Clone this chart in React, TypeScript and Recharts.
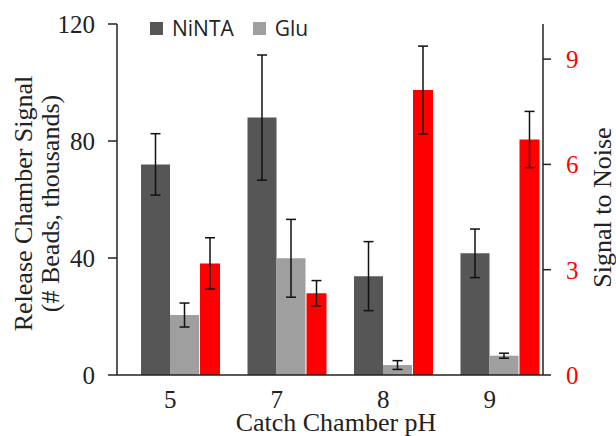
import { BarChart, Bar, XAxis, YAxis, ErrorBar, Legend } from 'recharts';

const phLevels = ['5', '7', '8', '9'];
const nintaBeads = [72, 88, 33.8, 41.6];
const nintaErr = [10.5, 21.4, 11.8, 8.3];
const gluBeads = [20.5, 39.9, 3.4, 6.6];
const gluErr = [4.1, 13.3, 1.5, 0.85];
const signalToNoise = [3.18, 2.33, 8.12, 6.71];
const snrErr = [0.73, 0.36, 1.25, 0.8];
const leftTicks = [0, 40, 80, 120];
const rightTicks = [0, 3, 6, 9];
const legendOrder = ['NiNTA', 'Glu'];

const data = phLevels.map((ph, i) => ({
  ph,
  ninta: nintaBeads[i],
  nintaErr: nintaErr[i],
  glu: gluBeads[i],
  gluErr: gluErr[i],
  snr: signalToNoise[i],
  snrErr: snrErr[i],
}));

const serif = '"Liberation Serif", "Times New Roman", serif';

const LeftTitle = ({ viewBox }: any) => {
  const cx = viewBox.x + 32;
  const cy = viewBox.y + viewBox.height / 2 + 4;
  return (
    <text
      x={cx}
      y={cy}
      transform={`rotate(-90, ${cx}, ${cy})`}
      textAnchor="middle"
      fontFamily={serif}
      fontSize={26}
      fill="#222"
    >
      <tspan x={cx}>Release Chamber Signal</tspan>
      <tspan x={cx} dy={27}>(# Beads, thousands)</tspan>
    </text>
  );
};

const RightTitle = ({ viewBox }: any) => {
  const cx = viewBox.x + 68;
  const cy = viewBox.y + viewBox.height / 2 + 8;
  return (
    <text
      x={cx}
      y={cy}
      transform={`rotate(-90, ${cx}, ${cy})`}
      textAnchor="middle"
      fontFamily={serif}
      fontSize={26}
      fill="#222"
    >
      Signal to Noise
    </text>
  );
};

const renderLegend = (props: any) => (
  <div style={{ display: 'flex', fontFamily: '"Open Sans", sans-serif', fontSize: 21, color: '#222', lineHeight: '22px' }}>
    {(props.payload || [])
      .filter((p: any) => p.type !== 'none')
      .sort((a: any, b: any) => legendOrder.indexOf(a.value) - legendOrder.indexOf(b.value))
      .map((p: any) => (
        <span key={p.value} style={{ display: 'flex', alignItems: 'center', marginRight: 19 }}>
          <span style={{ width: 13, height: 13, background: p.color, marginRight: 9, display: 'inline-block' }} />
          {p.value}
        </span>
      ))}
  </div>
);

export default function App() {
  return (
    <div style={{ position: 'absolute', left: 0, top: 0, background: '#fff' }}>
      <BarChart width={616} height={436} data={data} margin={{ top: 24, right: 0, bottom: 0, left: 0 }} barGap={0}>
        <XAxis
          dataKey="ph"
          height={61}
          tickLine={false}
          tickSize={0}
          tickMargin={15}
          axisLine={{ stroke: '#222', strokeWidth: 1.5 }}
          tick={{ fontFamily: serif, fontSize: 25, fill: '#222' }}
          label={{ value: 'Catch Chamber pH', position: 'insideBottom', offset: 5, fontFamily: serif, fontSize: 26, fill: '#222', dx: 6 }}
        />
        <XAxis xAxisId="snr" dataKey="ph" hide padding={{ left: 40, right: -40 }} />
        <YAxis
          yAxisId="left"
          width={117}
          domain={[0, 120]}
          ticks={leftTicks}
          tickSize={9}
          tickMargin={13}
          stroke="#222"
          axisLine={{ stroke: '#222', strokeWidth: 1.5 }}
          tickLine={{ stroke: '#222', strokeWidth: 1.5 }}
          tick={{ fontFamily: serif, fontSize: 25, fill: '#222' }}
          label={<LeftTitle />}
        />
        <YAxis
          yAxisId="right"
          orientation="right"
          width={73}
          domain={[0, 10]}
          ticks={rightTicks}
          tickSize={8}
          tickMargin={15}
          axisLine={{ stroke: '#222', strokeWidth: 1.5 }}
          tickLine={{ stroke: '#222', strokeWidth: 1.5 }}
          tick={{ fontFamily: serif, fontSize: 25, fill: '#ff0000' }}
          label={<RightTitle />}
        />
        <Legend
          layout="horizontal"
          verticalAlign="middle"
          align="center"
          content={renderLegend}
          wrapperStyle={{ top: 17, left: 150, width: 'auto' }}
        />
        <Bar yAxisId="left" dataKey="ninta" name="NiNTA" fill="#565656" barSize={29} isAnimationActive={false}>
          <ErrorBar dataKey="nintaErr" width={5} stroke="#111" strokeWidth={1.5} />
        </Bar>
        <Bar yAxisId="left" dataKey="glu" name="Glu" fill="#9f9f9f" barSize={29} isAnimationActive={false}>
          <ErrorBar dataKey="gluErr" width={5} stroke="#111" strokeWidth={1.5} />
        </Bar>
        <Bar
          xAxisId="snr"
          yAxisId="right"
          dataKey="snr"
          name="Signal to Noise"
          fill="#ff0000"
          barSize={20}
          legendType="none"
          isAnimationActive={false}
        >
          <ErrorBar dataKey="snrErr" width={5} stroke="#111" strokeWidth={1.5} />
        </Bar>
      </BarChart>
    </div>
  );
}
